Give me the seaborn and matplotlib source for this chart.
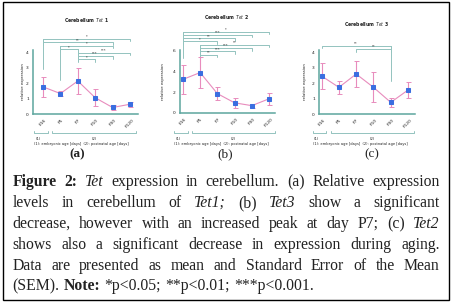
"""
Tet expression in cerebellum - three panels with significance brackets
and a justified figure caption underneath.
"""

import pandas as pd
import seaborn as sns
import matplotlib.pyplot as plt
from matplotlib.patches import Rectangle
from matplotlib.transforms import blended_transform_factory

# ---- data ----
categories = ["E16", "P5", "P7", "P10", "P30", "P120"]

tet1_mean = [1.75, 1.32, 2.13, 1.05, 0.42, 0.63]
tet1_sem = [0.65, 0.19, 0.81, 0.54, 0.18, 0.15]
tet2_mean = [3.2, 3.85, 1.85, 0.97, 0.70, 1.35]
tet2_sem = [1.35, 1.45, 0.62, 0.50, 0.18, 0.55]
tet3_mean = [2.45, 1.72, 2.58, 1.72, 0.75, 1.55]
tet3_sem = [0.86, 0.44, 0.86, 0.96, 0.27, 0.54]

# (left index, right index, stars)
tet1_sig = [(0, 5, "*"), (0, 4, "**"), (1, 4, "*"), (1, 2, "*"),
            (2, 5, "***"), (2, 4, "***"), (2, 3, "*")]
tet2_sig = [(0, 5, "*"), (0, 4, "***"), (0, 3, "**"), (0, 2, "*"),
            (1, 5, "**"), (1, 4, "***"), (1, 3, "***"), (1, 2, "**")]
tet3_sig = [(0, 4, "**"), (2, 4, "**")]

caption_lines = [
    "Figure 2: Tet expression in cerebellum. (a) Relative expression",
    "levels in cerebellum of Tet1; (b) Tet3 show a significant",
    "decrease, however with an increased peak at day P7; (c) Tet2",
    "shows also a significant decrease in expression during aging.",
    "Data are presented as mean and Standard Error of the Mean",
    "(SEM). Note: *p<0.05; **p<0.01; ***p<0.001.",
]
italic_words = {"Tet", "Tet1;", "Tet3", "Tet2"}
bold_words = {"Figure", "2:", "Note:"}

# ---- style ----
PINK = "#e88cbd"
BLUE = "#3b6ee0"
SPINE = "#5da69e"
BRACKET = "#93c3be"
INK = "#222222"
SERIF = "Liberation Serif"

sns.set_theme(style="white")
plt.rcParams["font.family"] = ["DejaVu Sans"]

W, H = 453, 306
fig = plt.figure(figsize=(W / 100, H / 100), dpi=100)
fig.patch.set_facecolor("white")

# overlay in pixel coordinates for the decorations around the panels
overlay = fig.add_axes([0, 0, 1, 1], zorder=5)
overlay.set_xlim(0, W)
overlay.set_ylim(H, 0)
overlay.axis("off")


def draw_panel(box, xlim, ylim, yticks, mean, sem, sig, sig_top, sig_step,
               drops, title, title_xy, label, label_x, label_bold, ylabel_x):
    l, r, t, b = box
    ax = fig.add_axes([l / W, 1 - b / H, (r - l) / W, (b - t) / H])
    px_per_unit = (b - t) / (ylim[1] - ylim[0])

    df = pd.DataFrame({"x": range(len(categories)), "y": mean, "sem": sem})
    ax.errorbar(df["x"], df["y"], yerr=df["sem"], fmt="none", ecolor=PINK,
                elinewidth=0.8, capsize=1.8, capthick=0.7, zorder=2)
    sns.lineplot(data=df, x="x", y="y", ax=ax, color=PINK, lw=0.8,
                 marker="s", markersize=3.2, markerfacecolor=BLUE,
                 markeredgecolor=BLUE, zorder=3)

    ax.set_xlim(*xlim)
    ax.set_ylim(*ylim)
    ax.set_xticks(range(len(categories)))
    ax.set_xticklabels(categories, rotation=45, ha="center", fontsize=3.2,
                       color=INK)
    ax.set_yticks(yticks)
    ax.set_yticklabels([str(v) for v in yticks], fontsize=3.2, color=INK)
    ax.set_xlabel("")
    ax.set_ylabel("")
    ax.tick_params(axis="both", length=1.5, width=0.5, color=SPINE, pad=1.5)
    for side in ["top", "right"]:
        ax.spines[side].set_visible(False)
    for side in ["left", "bottom"]:
        ax.spines[side].set_color(SPINE)
        ax.spines[side].set_linewidth(1.1)

    # significance brackets
    tick = 2.5 / px_per_unit
    tops = {}
    for k, (i, j, stars) in enumerate(sig):
        h = sig_top - k * sig_step
        ax.plot([i, i, j, j], [h - tick, h, h, h - tick], color=BRACKET,
                lw=0.7, clip_on=False, zorder=1)
        ax.text((i + j) / 2, h + 0.3 / px_per_unit, stars, ha="center",
                va="bottom", fontsize=2.6, color=INK, clip_on=False)
        tops[i] = max(tops.get(i, h), h)
        tops[j] = max(tops.get(j, h), h)
    for idx, low in drops:
        ax.plot([idx, idx], [tops[idx], low], color=BRACKET, lw=0.7,
                clip_on=False, zorder=1)

    # (1) / (2) age brackets under the axis
    tr = blended_transform_factory(ax.transData, overlay.transData)
    yb = 133
    for x0, x1 in [(-0.5, 0.28), (0.53, 5.37)]:
        ax.plot([x0, x0, x1, x1], [yb - 2, yb, yb, yb - 2], color=BRACKET,
                lw=0.7, transform=tr, clip_on=False)
    overlay.text(-0.45, yb + 6, "(1)", transform=tr, fontsize=2.7,
                 color=INK, ha="left", va="center")
    overlay.text((0.53 + 5.37) / 2, yb + 6, "(2)", transform=tr,
                 fontsize=2.7, color=INK, ha="center", va="center")
    overlay.text(-0.5, yb + 10.5,
                 "(1): embryonic age [days]  (2): postnatal age [days]",
                 transform=tr, fontsize=2.6, color=INK, ha="left",
                 va="center")

    overlay.text(ylabel_x, (t + b) / 2, "relative expression", rotation=90,
                 fontsize=2.8, color=INK, ha="center", va="center")
    overlay.text(title_xy[0], title_xy[1], title, fontsize=3.3,
                 fontweight="bold", color=INK, ha="center", va="center")
    overlay.text(label_x, 154, label, family=SERIF, fontsize=9.5,
                 fontweight="bold" if label_bold else "normal", color=INK,
                 ha="center", va="center")
    return ax


draw_panel((33, 138, 50, 114), (-0.575, 5.46), (0, 4.13), [0, 1, 2, 3, 4],
           tet1_mean, tet1_sem, tet1_sig, 4.84, 0.22,
           [(0, 2.9), (1, 2.2), (2, 3.4)],
           r"Cerebellum $\mathit{Tet}$ 1", (87, 20), "(a)", 77, True, 23)
draw_panel((180, 275, 50, 113), (-0.17, 5.35), (0, 6.0), [0, 2, 4, 6],
           tet2_mean, tet2_sem, tet2_sig, 7.74, 0.31,
           [(0, 5.2), (1, 5.35)],
           r"Cerebellum $\mathit{Tet}$ 2", (227, 17), "(b)", 225, False, 163)
draw_panel((319, 415, 50, 114), (-0.15, 5.4), (0, 4.13), [0, 1, 2, 3, 4],
           tet3_mean, tet3_sem, tet3_sig, 4.4, 0.21,
           [(4, 2.1)],
           r"Cerebellum $\mathit{Tet}$ 3", (367, 24), "(c)", 372, False, 305)

# ---- justified caption ----
renderer = fig.canvas.get_renderer()
CAP_FS = 11.3
LEFT, RIGHT = 12.5, 439.5
baselines = [186.5, 207, 228, 249, 269.5, 290.5]

for n, (line, yb) in enumerate(zip(caption_lines, baselines)):
    texts = []
    for word in line.split(" "):
        t = overlay.text(0, yb, word, family=SERIF, fontsize=CAP_FS,
                         color=INK, ha="left", va="baseline",
                         fontweight="bold" if word in bold_words else "normal",
                         fontstyle="italic" if word in italic_words else "normal")
        texts.append(t)
    widths = [t.get_window_extent(renderer).width for t in texts]
    if n < len(caption_lines) - 1:
        gap = (RIGHT - LEFT - sum(widths)) / (len(texts) - 1)
    else:
        gap = CAP_FS * 100 / 72 * 0.27
    x = LEFT
    for t, w in zip(texts, widths):
        t.set_x(x)
        x += w + gap

overlay.add_patch(Rectangle((2.5, 2), 446, 298, fill=False, lw=1.0,
                            ec="black"))

fig.savefig("out.png", dpi=100)
